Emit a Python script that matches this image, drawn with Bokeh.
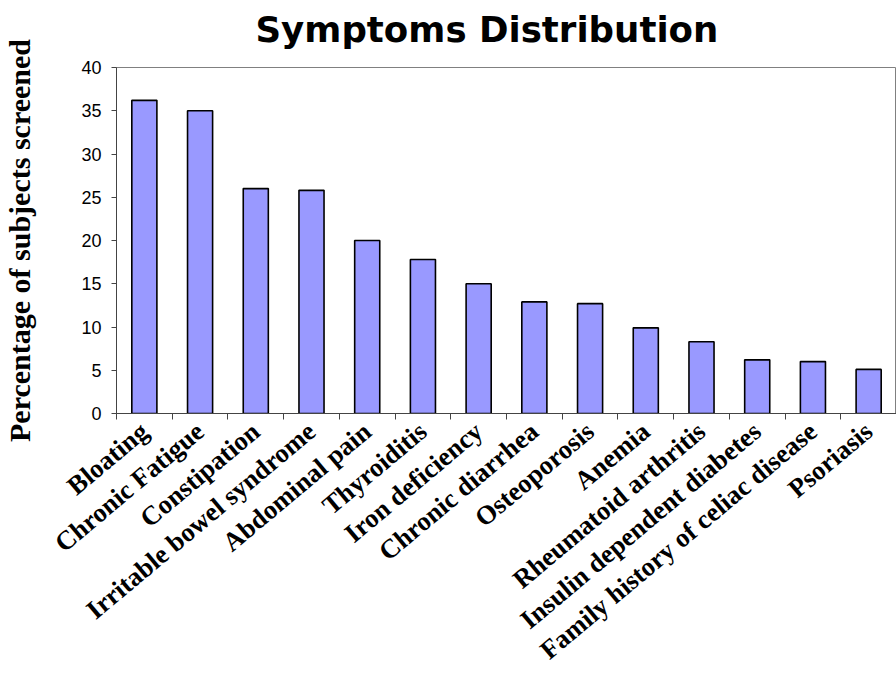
import math
from bokeh.plotting import figure
from bokeh.models import FixedTicker, Range1d, CustomJSTickFormatter, ColumnDataSource
from bokeh.embed import file_html
from bokeh.resources import INLINE

categories = [
    "Bloating", "Chronic Fatigue", "Constipation", "Irritable bowel syndrome",
    "Abdominal pain", "Thyroiditis", "Iron deficiency", "Chronic diarrhea",
    "Osteoporosis", "Anemia", "Rheumatoid arthritis", "Insulin dependent diabetes",
    "Family history of celiac disease", "Psoriasis",
]
values = [36.2, 35.0, 26.0, 25.8, 20.0, 17.8, 15.0, 12.9, 12.7, 9.9, 8.3, 6.2, 6.0, 5.1]
y_ticks = [0, 5, 10, 15, 20, 25, 30, 35, 40]

n = len(categories)
xs = [i + 0.5 for i in range(n)]
src = ColumnDataSource(dict(x=xs, top=values, name=categories))

p = figure(width=896, height=680, output_backend="svg", toolbar_location=None,
           x_range=Range1d(0, n), y_range=Range1d(0, 40),
           min_border_left=116, min_border_right=0, min_border_top=0,
           min_border_bottom=267)

p.vbar(x="x", top="top", width=0.45, bottom=0, source=src,
       fill_color="#9999FF", line_color="black", line_width=1.6)

p.title.text = "Symptoms Distribution"
p.title.align = "left"
p.title.offset = 139
p.title.standoff = 0
p.title.padding = (0, 0, 6, 18)
p.title.text_font = "DejaVu Sans"
p.title.text_font_style = "bold"
p.title.text_font_size = "35.6px"
p.title.text_color = "black"

p.xgrid.visible = False
p.ygrid.visible = False
p.outline_line_color = "#808080"
p.outline_line_width = 1
p.background_fill_color = "white"
p.border_fill_color = "white"

xa = p.xaxis[0]
xa.ticker = FixedTicker(ticks=xs, minor_ticks=list(range(n + 1)))
xa.formatter = CustomJSTickFormatter(args=dict(labels=categories),
                                     code="const i = Math.floor(tick); return (i >= 0 && i < labels.length) ? labels[i] : '';")
xa.major_tick_out = 0
xa.major_tick_in = 0
xa.minor_tick_out = 6
xa.minor_tick_in = 0
xa.minor_tick_line_color = "#444444"
xa.axis_line_color = "#444444"
xa.major_label_orientation = math.radians(40)
xa.major_label_text_font = "Liberation Serif"
xa.major_label_text_font_style = "bold"
xa.major_label_text_font_size = "26.6px"
xa.major_label_text_color = "black"
xa.major_label_standoff = 8

ya = p.yaxis[0]
ya.ticker = FixedTicker(ticks=y_ticks)
ya.major_tick_out = 5
ya.major_tick_in = 0
ya.minor_tick_out = 0
ya.minor_tick_in = 0
ya.axis_line_color = "#444444"
ya.major_tick_line_color = "#444444"
ya.major_label_text_font = "Liberation Sans"
ya.major_label_text_font_size = "18px"
ya.major_label_text_color = "black"
ya.major_label_standoff = 10
ya.axis_label = "Percentage of subjects screened"
ya.axis_label_text_font = "Liberation Serif"
ya.axis_label_text_font_style = "bold"
ya.axis_label_text_font_size = "30px"
ya.axis_label_text_color = "black"
ya.axis_label_standoff = 42

open("out.html", "w").write(file_html(p, INLINE))
